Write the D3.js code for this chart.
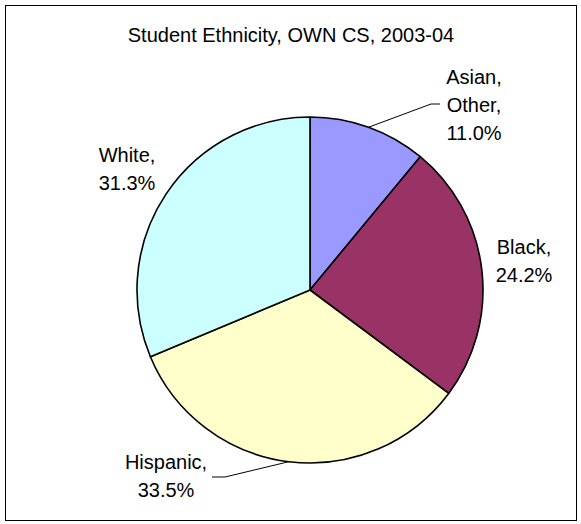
<!DOCTYPE html>
<html>
<head>
<meta charset="utf-8">
<script src="https://cdn.jsdelivr.net/npm/d3@7"></script>
<style>
  html, body { margin: 0; padding: 0; background: #fff; }
  svg { display: block; }
  text { font-family: "Liberation Sans", Arial, sans-serif; fill: #000; }
</style>
</head>
<body>
<svg id="chart" width="581" height="524"></svg>
<script>
// ---- data ----
const title = "Student Ethnicity, OWN CS, 2003-04";
const categories = ["Asian, Other", "Black", "Hispanic", "White"];
const values = [11.0, 24.2, 33.5, 31.3];
const labelLines = [["Asian,", "Other,", "11.0%"], ["Black,", "24.2%"], ["Hispanic,", "33.5%"], ["White,", "31.3%"]];
const colors = ["#9999FF", "#993366", "#FFFFCC", "#CCFFFF"];

// ---- layout ----
const W = 581, H = 524;
const cx = 310, cy = 290, R = 173;
const fontSize = 20, lineH = 28;
// label block centers (relative to pie centre) and leader-line elbow points
const labelLayout = [
  { dx: 164, dy: -185, leader: [[121, -186], [130, -186]] },
  { dx: 214, dy: -29, leader: null },
  { dx: -144, dy: 186, leader: [[-85, 187], [-98, 187]] },
  { dx: -183, dy: -121, leader: null }
];

const svg = d3.select("#chart");

svg.append("rect")
  .attr("x", 5.5).attr("y", 5.5)
  .attr("width", W - 10).attr("height", H - 9)
  .attr("fill", "#fff").attr("stroke", "#000").attr("stroke-width", 1);

svg.append("text")
  .attr("x", 291).attr("y", 42)
  .attr("text-anchor", "middle")
  .attr("font-size", fontSize)
  .text(title);

const pie = d3.pie().sort(null).value(d => d)(values);
const arc = d3.arc().innerRadius(0).outerRadius(R);

const g = svg.append("g").attr("transform", `translate(${cx},${cy})`);

g.selectAll("path.slice")
  .data(pie)
  .join("path")
  .attr("class", "slice")
  .attr("d", arc)
  .attr("fill", (d, i) => colors[i])
  .attr("stroke", "#000")
  .attr("stroke-width", 1.6)
  .attr("stroke-linejoin", "round");

// leader lines
pie.forEach((d, i) => {
  const L = labelLayout[i];
  if (!L.leader) return;
  const a = (d.startAngle + d.endAngle) / 2;
  const p0 = [R * Math.sin(a), -R * Math.cos(a)];
  const pts = [p0, ...L.leader];
  g.append("path")
    .attr("d", d3.line()(pts))
    .attr("fill", "none")
    .attr("stroke", "#000")
    .attr("stroke-width", 1);
});

// labels
pie.forEach((d, i) => {
  const L = labelLayout[i];
  const lines = labelLines[i];
  const t = g.append("text")
    .attr("text-anchor", "middle")
    .attr("font-size", fontSize);
  const n = lines.length;
  lines.forEach((s, k) => {
    t.append("tspan")
      .attr("x", L.dx)
      .attr("y", L.dy + (k - (n - 1) / 2) * lineH + fontSize * 0.36)
      .text(s);
  });
});
</script>
</body>
</html>
